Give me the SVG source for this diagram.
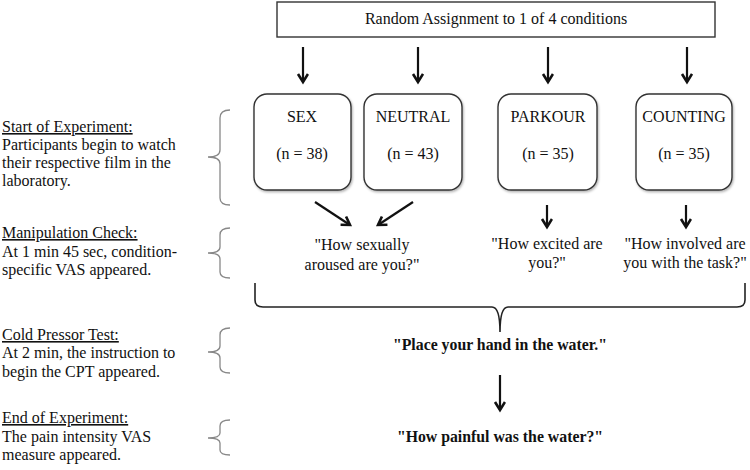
<svg xmlns="http://www.w3.org/2000/svg" width="750" height="470" viewBox="0 0 750 470">
<defs>
<marker id="ah" markerWidth="14" markerHeight="14" refX="9" refY="6" orient="auto" markerUnits="userSpaceOnUse">
<path d="M1,1 L9,6 L1,11" fill="none" stroke="#111" stroke-width="2.6" stroke-linejoin="miter"/>
</marker>
<filter id="sh" x="-10%" y="-10%" width="130%" height="130%">
<feDropShadow dx="1" dy="1.5" stdDeviation="1.2" flood-color="#000" flood-opacity="0.3"/>
</filter>
</defs>
<style>
text{font-family:"Liberation Serif","Times New Roman",serif;fill:#111}
.t{font-size:16px}
.c{font-size:16px;text-anchor:middle}
.b{font-size:15.8px;font-weight:bold;text-anchor:middle}
.u{text-decoration:underline}
.box{fill:#fff;stroke:#333;stroke-width:1.4}
.rb{filter:url(#sh)}
.arr{stroke:#111;stroke-width:2.2;fill:none;marker-end:url(#ah)}
.br{fill:none;stroke:#888;stroke-width:1.3}
.bb{fill:none;stroke:#222;stroke-width:1.6}
</style>
<rect width="750" height="470" fill="#fff"/>

<g id="top">
<rect class="box" x="277" y="2" width="438" height="35"/>
<text class="c" x="496" y="24">Random Assignment to 1 of 4 conditions</text>
</g>

<g id="sex">
<rect class="box rb" x="254" y="94" width="97" height="96" rx="13"/>
<text class="c" x="302" y="122">SEX</text>
<text class="c" x="302" y="159">(n = 38)</text>
</g>
<g id="neutral">
<rect class="box rb" x="364" y="94" width="98" height="96" rx="13"/>
<text class="c" x="413" y="122">NEUTRAL</text>
<text class="c" x="413" y="159">(n = 43)</text>
</g>
<g id="parkour">
<rect class="box rb" x="498" y="94" width="99" height="96" rx="13"/>
<text class="c" x="548" y="122">PARKOUR</text>
<text class="c" x="548" y="159">(n = 35)</text>
</g>
<g id="counting">
<rect class="box rb" x="636" y="94" width="96" height="96" rx="13"/>
<text class="c" x="684" y="122">COUNTING</text>
<text class="c" x="684" y="159">(n = 35)</text>
</g>

<g id="q-aroused">
<text class="c" x="362" y="250">"How sexually</text>
<text class="c" x="362" y="270">aroused are you?"</text>
</g>
<g id="q-excited">
<text class="c" x="547" y="249">"How excited are</text>
<text class="c" x="547" y="268">you?"</text>
</g>
<g id="q-involved">
<text class="c" x="685" y="249">"How involved are</text>
<text class="c" x="685" y="268">you with the task?"</text>
</g>
<g id="place">
<text class="b" x="500" y="350">"Place your hand in the water."</text>
</g>
<g id="painful">
<text class="b" x="500" y="442">"How painful was the water?"</text>
</g>

<g id="labels">
<text class="t" x="2" y="132"><tspan class="u">Start of Experiment:</tspan></text>
<text class="t" x="2" y="150">Participants begin to watch</text>
<text class="t" x="2" y="168">their respective film in the</text>
<text class="t" x="2" y="186">laboratory.</text>
<text class="t" x="2" y="238"><tspan class="u">Manipulation Check:</tspan></text>
<text class="t" x="2" y="257">At 1 min 45 sec, condition-</text>
<text class="t" x="2" y="275">specific VAS appeared.</text>
<text class="t" x="2" y="340"><tspan class="u">Cold Pressor Test:</tspan></text>
<text class="t" x="2" y="358">At 2 min, the instruction to</text>
<text class="t" x="2" y="377">begin the CPT appeared.</text>
<text class="t" x="2" y="423"><tspan class="u">End of Experiment:</tspan></text>
<text class="t" x="2" y="442">The pain intensity VAS</text>
<text class="t" x="2" y="460">measure appeared.</text>
</g>

<g id="brackets">
<path class="br" d="M230,110 Q220,110 220,118 L220,150 Q220,157 208,157 Q220,157 220,164 L220,198 Q220,205 230,205"/>
<path class="br" d="M230,228 Q220,228 220,235 L220,247 Q220,253 208,253 Q220,253 220,259 L220,272 Q220,278 230,278"/>
<path class="br" d="M230,328 Q220,328 220,335 L220,346 Q220,352 208,352 Q220,352 220,358 L220,367 Q220,373 230,373"/>
<path class="br" d="M230,420 Q220,420 220,426 L220,433 Q220,438 208,438 Q220,438 220,443 L220,450 Q220,455 230,455"/>
</g>

<g id="connectors">
<line class="arr" x1="303" y1="47" x2="303" y2="82"/>
<line class="arr" x1="418" y1="47" x2="418" y2="82"/>
<line class="arr" x1="548" y1="47" x2="548" y2="82"/>
<line class="arr" x1="687" y1="47" x2="687" y2="82"/>
<line class="arr" x1="315" y1="202" x2="350" y2="225"/>
<line class="arr" x1="413" y1="202" x2="378" y2="225"/>
<line class="arr" x1="547" y1="205" x2="547" y2="227"/>
<line class="arr" x1="686" y1="205" x2="686" y2="227"/>
<path class="bb" d="M255,283 L255,300 Q255,307 263,307 L492,307 Q500,307 500,332 Q500,307 508,307 L737,307 Q745,307 745,300 L745,283"/>
<line class="arr" x1="500" y1="375" x2="500" y2="410"/>
</g>
</svg>
